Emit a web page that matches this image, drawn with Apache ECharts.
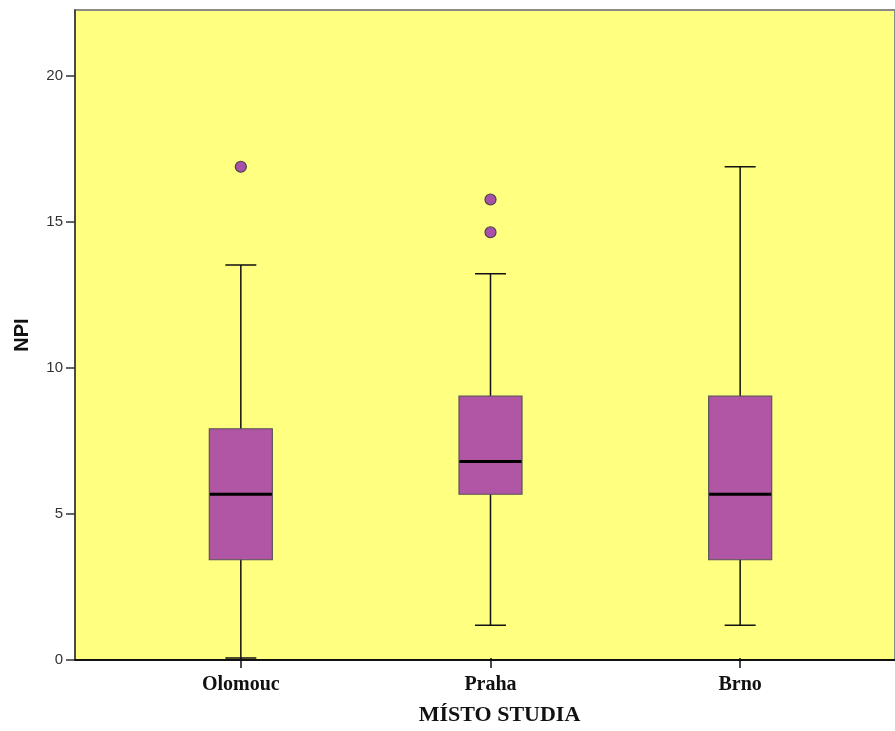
<!DOCTYPE html>
<html>
<head>
<meta charset="utf-8">
<script src="https://cdn.jsdelivr.net/npm/echarts@6/dist/echarts.min.js"></script>
<style>html,body{margin:0;padding:0;background:#fff}#c{width:895px;height:731px}</style>
</head>
<body>
<div id="c"></div>
<script>
var categories = ['Olomouc', 'Praha', 'Brno'];
var whiskerLow = [0, 1.125, 1.125];
var q1 = [3.375, 5.625, 3.375];
var median = [5.625, 6.75, 5.625];
var q3 = [7.875, 9.0, 9.0];
var whiskerHigh = [13.5, 13.2, 16.875];
var outlierCategory = ['Olomouc', 'Praha', 'Praha'];
var outlierValue = [16.875, 15.75, 14.625];
var yTickValues = [0, 5, 10, 15, 20];

// whiskers (box part collapsed onto the median, hidden under the box)
var whiskerData = categories.map(function (c, i) { return [whiskerLow[i], median[i], median[i], median[i], whiskerHigh[i]]; });
var boxData = categories.map(function (c, i) { return [q1[i], q1[i], median[i], q3[i], q3[i]]; });
var medData = categories.map(function (c, i) { return [median[i], median[i], median[i], median[i], median[i]]; });
var outliers = outlierCategory.map(function (c, i) { return [c, outlierValue[i]]; });

var yMax = 22.26;
function hiddenCat() {
  return {gridIndex: 1, type: 'category', data: categories, boundaryGap: true, show: false};
}
var chart = echarts.init(document.getElementById('c'));
chart.setOption({
  animation: false,
  backgroundColor: '#ffffff',
  grid: [
    {left: 75, top: 10, right: -5, bottom: 71, show: true, backgroundColor: '#FFFF80', borderColor: '#8a8a8a', borderWidth: 2},
    {left: 116, width: 749, top: 10, bottom: 71}
  ],
  xAxis: [
    {gridIndex: 0, type: 'value', min: 0, max: 1, axisLine: {show: true, onZero: false, lineStyle: {color: '#111', width: 2}}, axisTick: {show: false}, axisLabel: {show: false}, splitLine: {show: false}},
    {gridIndex: 1, type: 'category', data: categories, boundaryGap: true,
     axisLine: {show: false}, axisTick: {show: true, alignWithLabel: true, length: 10, lineStyle: {color: '#111', width: 1.5}},
     axisLabel: {margin: 17, color: '#111', fontFamily: 'Liberation Serif', fontWeight: 'bold', fontSize: 20},
     name: 'MÍSTO STUDIA', nameLocation: 'middle', nameGap: 46,
     nameTextStyle: {color: '#111', fontFamily: 'Liberation Serif', fontWeight: 'bold', fontSize: 22, padding: [0, 0, 0, 18]},
     splitLine: {show: false}},
    hiddenCat(), hiddenCat(), hiddenCat()
  ],
  yAxis: [
    {gridIndex: 0, type: 'value', min: 0, max: yMax, interval: 5,
     axisLine: {show: true, lineStyle: {color: '#333', width: 1.5}},
     axisTick: {show: true, length: 9, lineStyle: {color: '#333', width: 1.5}},
     axisLabel: {showMaxLabel: false, margin: 12, color: '#333', fontFamily: 'Liberation Sans', fontSize: 15,
       formatter: function (v) { return yTickValues.indexOf(v) >= 0 ? String(v) : ''; }},
     splitLine: {show: false},
     name: 'NPI', nameLocation: 'middle', nameGap: 43,
     nameTextStyle: {color: '#111', fontFamily: 'Liberation Sans', fontWeight: 'bold', fontSize: 20}},
    {gridIndex: 1, type: 'value', min: 0, max: yMax, show: false}
  ],
  series: [
    {type: 'boxplot', xAxisIndex: 1, yAxisIndex: 1, z: 2, boxWidth: [31, 31], data: whiskerData,
     itemStyle: {color: 'rgba(0,0,0,0)', borderColor: '#111', borderWidth: 1.5}, silent: true},
    {type: 'boxplot', xAxisIndex: 2, yAxisIndex: 1, z: 3, boxWidth: [63, 63], data: boxData,
     itemStyle: {color: '#B155A5', borderColor: '#555', borderWidth: 1.2}, silent: true},
    {type: 'boxplot', xAxisIndex: 3, yAxisIndex: 1, z: 4, boxWidth: [62, 62], data: medData,
     itemStyle: {color: 'rgba(0,0,0,0)', borderColor: '#000', borderWidth: 3}, silent: true},
    {type: 'scatter', xAxisIndex: 4, yAxisIndex: 1, z: 5, data: outliers, symbolSize: 11,
     itemStyle: {color: '#A950A8', borderColor: '#444', borderWidth: 1.2, opacity: 1}, silent: true}
  ]
});
</script>
</body>
</html>
